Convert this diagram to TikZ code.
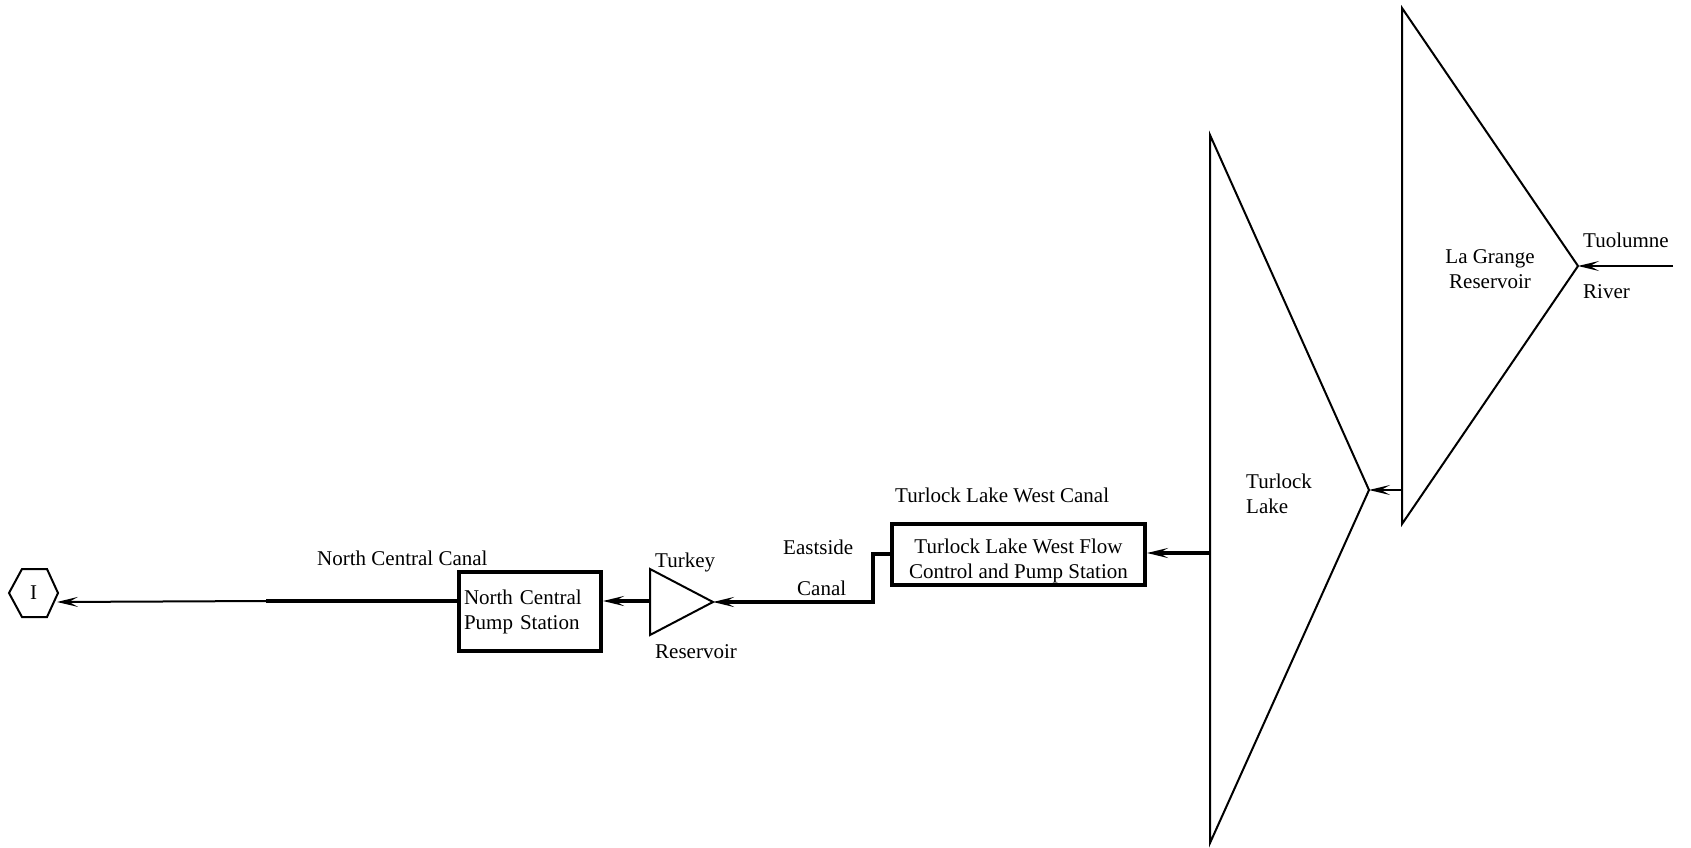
\documentclass[tikz,border=0pt]{standalone}
\usepackage{fontspec}
\setmainfont{Liberation Serif}
\usetikzlibrary{arrows.meta}
\begin{document}
\begin{tikzpicture}[x=1pt,y=-1pt,
  every node/.style={font=\fontsize{21pt}{25pt}\selectfont},
  lbl/.style={anchor=base west,inner sep=0pt},
  clbl/.style={anchor=base,inner sep=0pt},
  thin line/.style={line width=2pt},
  thick line/.style={line width=4pt},
  tip/.style={-{Stealth[length=21pt,width=10pt,inset=9pt]}},
  boxnode/.style={draw,line width=4pt,inner sep=0pt}
]
\useasboundingbox (0,0) rectangle (1691,848);

% hexagon
\coordinate (h1) at (9,593); \coordinate (h2) at (22,569); \coordinate (h3) at (47,569);
\coordinate (h4) at (58,593); \coordinate (h5) at (47,617); \coordinate (h6) at (22,617);
\draw[thin line] (h1)--(h2)--(h3)--(h4)--(h5)--(h6)--cycle;
\node[inner sep=0pt] (hexI) at (33.5,593) {I};
\coordinate (hexIn) at (57,602);

% La Grange Reservoir triangle
\coordinate (lgT) at (1402,8); \coordinate (lgA) at (1578,266); \coordinate (lgB) at (1402,524);
\draw[thin line,line join=miter] (lgT)--(lgA)--(lgB)--cycle;
\node[clbl] (lg1) at (1490,263) {La Grange};
\node[clbl] (lg2) at (1490,288) {Reservoir};

% Turlock Lake triangle
\coordinate (tlT) at (1210,135); \coordinate (tlA) at (1369,490); \coordinate (tlB) at (1210,843);
\draw[thin line,line join=miter] (tlT)--(tlA)--(tlB)--cycle;
\node[lbl] (tl1) at (1246,488) {Turlock};
\node[lbl] (tl2) at (1246,513) {Lake};

% Turkey Reservoir triangle
\coordinate (tkT) at (650,569); \coordinate (tkA) at (713,602); \coordinate (tkB) at (650,635);
\draw[thin line,line join=miter] (tkT)--(tkA)--(tkB)--cycle;
\node[lbl] (tk1) at (655,567) {Turkey};
\node[lbl] (tk2) at (655,658) {Reservoir};

% boxes
\node[boxnode,minimum width=253pt,minimum height=61pt] (tlw) at (1018.5,554.5) {};
\node[align=center,inner sep=0pt] (tlwtext) at ([yshift=-6pt]tlw.center)
  {Turlock Lake West Flow\\Control and Pump Station};
\node[boxnode,minimum width=142pt,minimum height=79pt,text width=132pt,align=left] (nc) at (530,611.5)
  {North Central\\Pump Station};

% labels
\node[lbl] (tuo) at (1583,247) {Tuolumne};
\node[lbl] (riv) at (1583,298) {River};
\node[lbl] (tlwc) at (895,502) {Turlock Lake West Canal};
\node[lbl] (es1) at (783,554) {Eastside};
\node[lbl] (es2) at (797,595) {Canal};
\node[lbl] (ncc) at (317,565) {North Central Canal};

% connectors
\coordinate (riverIn) at (1673,266);
\draw[thin line,tip] (riverIn) -- (lgA);
\coordinate (lgOut) at (1402,490);
\draw[thin line,tip] (lgOut) -- (tlA);
\coordinate (tlOut) at (1210,553);
\draw[thick line,tip] (tlOut) -- (tlw.east |- tlOut);
\coordinate (esBend) at (873,554);
\draw[thick line,tip,line join=miter] (tlw.west |- esBend) -- (esBend) -- (esBend |- tkA) -- (tkA);
\coordinate (tkOut) at (650,601);
\draw[thick line,tip] (tkOut) -- (nc.east |- tkOut);
\coordinate (ncThin) at (266,601);
\draw[thick line] (nc.west |- ncThin) -- (ncThin);
\draw[thin line,tip] (ncThin) -- (hexIn);
\end{tikzpicture}
\end{document}
